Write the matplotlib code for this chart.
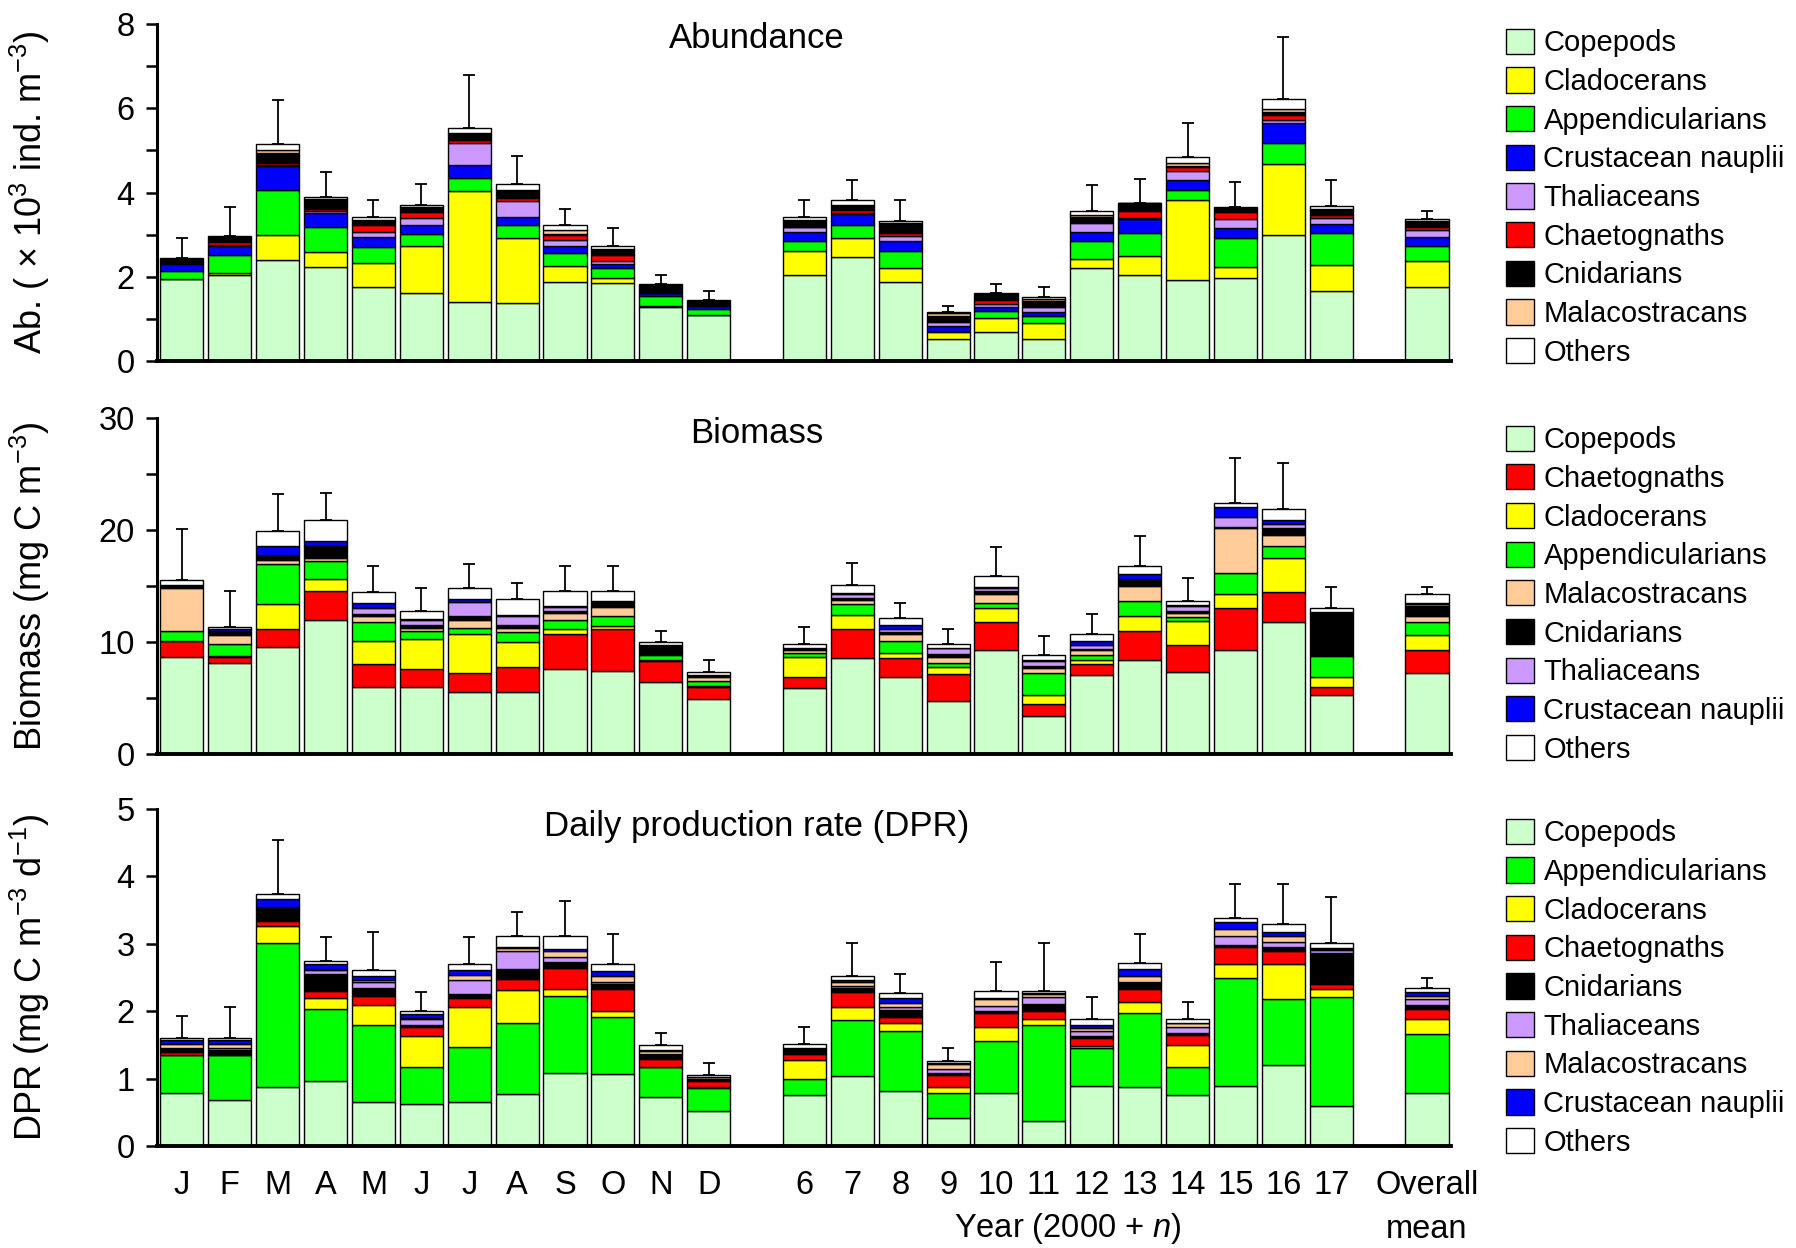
import matplotlib
matplotlib.use("Agg")
import matplotlib.pyplot as plt
import numpy as np
from matplotlib.patches import Patch
from matplotlib.ticker import MultipleLocator

plt.rcParams["font.family"] = ["Liberation Sans", "DejaVu Sans"]
plt.rcParams["mathtext.fontset"] = "custom"
plt.rcParams["mathtext.rm"] = "Liberation Sans"
plt.rcParams["mathtext.it"] = "Liberation Sans:italic"

MONTH_LABELS = ["J", "F", "M", "A", "M", "J", "J", "A", "S", "O", "N", "D"]
YEAR_LABELS = ["6", "7", "8", "9", "10", "11", "12", "13", "14", "15", "16", "17"]
MEAN_LABEL = "Overall\nmean"

COLORS = {
    "Copepods": "#ccffcc",
    "Cladocerans": "#ffff00",
    "Appendicularians": "#00ff00",
    "Crustacean nauplii": "#0000ff",
    "Thaliaceans": "#cc99ff",
    "Chaetognaths": "#ff0000",
    "Cnidarians": "#000000",
    "Malacostracans": "#ffcc99",
    "Others": "#ffffff",
}

# values: 12 months (J..D), 12 years (2006..2017), overall mean
# --- abundance (x10^3 ind. m-3)
AB_COP = [1.94, 2.05, 2.40, 2.24, 1.75, 1.62, 1.41, 1.37, 1.87, 1.85, 1.29, 1.09,
          2.04, 2.48, 1.87, 0.53, 0.70, 0.53, 2.20, 2.04, 1.92, 1.96, 3.00, 1.67, 1.75]
AB_CLAD = [0.00, 0.04, 0.58, 0.34, 0.57, 1.12, 2.62, 1.54, 0.39, 0.11, 0.01, 0.01,
           0.58, 0.43, 0.33, 0.16, 0.33, 0.37, 0.22, 0.46, 1.91, 0.28, 1.67, 0.62, 0.62]
AB_APP = [0.20, 0.43, 1.08, 0.61, 0.38, 0.28, 0.32, 0.32, 0.30, 0.26, 0.24, 0.14,
          0.24, 0.32, 0.40, 0.03, 0.16, 0.17, 0.42, 0.53, 0.24, 0.67, 0.51, 0.74, 0.37]
AB_NAUP = [0.16, 0.22, 0.58, 0.33, 0.25, 0.22, 0.31, 0.18, 0.18, 0.08, 0.07, 0.07,
           0.21, 0.25, 0.26, 0.10, 0.10, 0.10, 0.23, 0.34, 0.22, 0.25, 0.47, 0.22, 0.21]
AB_THAL = [0.02, 0.02, 0.02, 0.03, 0.12, 0.15, 0.52, 0.40, 0.14, 0.07, 0.00, 0.01,
           0.10, 0.03, 0.10, 0.10, 0.06, 0.12, 0.20, 0.02, 0.23, 0.21, 0.08, 0.15, 0.15]
AB_CHAET = [0.02, 0.06, 0.04, 0.07, 0.17, 0.14, 0.06, 0.06, 0.10, 0.14, 0.02, 0.01,
            0.02, 0.08, 0.07, 0.02, 0.10, 0.02, 0.02, 0.17, 0.08, 0.16, 0.12, 0.06, 0.09]
AB_CNID = [0.08, 0.12, 0.24, 0.20, 0.09, 0.10, 0.16, 0.16, 0.04, 0.12, 0.16, 0.09,
           0.13, 0.10, 0.22, 0.13, 0.14, 0.12, 0.12, 0.18, 0.04, 0.10, 0.05, 0.13, 0.12]
AB_MAL = [0.00, 0.00, 0.06, 0.02, 0.02, 0.02, 0.02, 0.02, 0.09, 0.02, 0.01, 0.00,
          0.02, 0.02, 0.02, 0.06, 0.01, 0.05, 0.06, 0.00, 0.06, 0.01, 0.07, 0.02, 0.02]
AB_OTH = [0.02, 0.02, 0.14, 0.06, 0.06, 0.06, 0.11, 0.14, 0.12, 0.08, 0.03, 0.02,
          0.07, 0.12, 0.05, 0.03, 0.02, 0.03, 0.10, 0.01, 0.14, 0.01, 0.24, 0.08, 0.05]
AB_ERR = [0.47, 0.69, 1.05, 0.58, 0.42, 0.50, 1.25, 0.68, 0.38, 0.43, 0.22, 0.23,
          0.42, 0.46, 0.51, 0.14, 0.22, 0.25, 0.60, 0.58, 0.81, 0.60, 1.49, 0.60, 0.19]

# --- biomass (mg C m-3)
BM_COP = [8.64, 8.17, 9.59, 11.94, 6.03, 6.03, 5.58, 5.58, 7.60, 7.42, 6.47, 4.93,
          5.88, 8.55, 6.92, 4.78, 9.30, 3.36, 7.07, 8.40, 7.30, 9.30, 11.82, 5.23, 7.28]
BM_CHAET = [1.46, 0.53, 1.55, 2.61, 2.02, 1.57, 1.70, 2.17, 3.09, 3.72, 1.88, 1.10,
            1.04, 2.59, 1.63, 2.35, 2.52, 1.09, 0.95, 2.62, 2.44, 3.70, 2.61, 0.80, 2.02]
BM_CLAD = [0.00, 0.05, 2.22, 1.07, 2.05, 2.65, 3.41, 2.29, 0.45, 0.32, 0.05, 0.05,
           1.72, 1.27, 0.45, 0.62, 1.18, 0.84, 0.38, 1.31, 2.17, 1.26, 3.12, 0.89, 1.33]
BM_APP = [0.89, 1.10, 3.57, 1.61, 1.72, 0.74, 0.60, 0.83, 0.83, 0.87, 0.40, 0.40,
          0.36, 0.95, 1.10, 0.42, 0.50, 1.93, 0.45, 1.33, 0.36, 1.87, 1.04, 1.87, 1.13]
BM_MAL = [3.86, 0.80, 0.44, 0.29, 0.51, 0.30, 0.70, 0.42, 0.59, 0.83, 0.10, 0.36,
          0.25, 0.39, 0.59, 0.53, 0.76, 0.44, 0.45, 1.37, 0.35, 4.07, 1.01, 0.02, 0.57]
BM_CNID = [0.24, 0.25, 0.39, 1.04, 0.15, 0.20, 0.30, 0.20, 0.20, 0.44, 0.80, 0.18,
           0.15, 0.20, 0.25, 0.20, 0.30, 0.20, 0.10, 0.56, 0.15, 0.05, 0.54, 3.84, 0.90]
BM_THAL = [0.00, 0.05, 0.05, 0.05, 0.59, 0.50, 1.25, 0.80, 0.34, 0.05, 0.02, 0.03,
           0.05, 0.34, 0.20, 0.54, 0.25, 0.46, 0.33, 0.05, 0.45, 0.89, 0.38, 0.02, 0.20]
BM_NAUP = [0.02, 0.20, 0.74, 0.40, 0.38, 0.05, 0.30, 0.10, 0.10, 0.05, 0.05, 0.03,
           0.02, 0.10, 0.38, 0.05, 0.10, 0.10, 0.35, 0.45, 0.05, 0.89, 0.36, 0.01, 0.05]
BM_OTH = [0.44, 0.20, 1.40, 1.86, 0.98, 0.75, 0.95, 1.45, 1.35, 0.85, 0.20, 0.22,
          0.35, 0.70, 0.60, 0.35, 0.98, 0.40, 0.62, 0.74, 0.42, 0.40, 1.04, 0.35, 0.82]
BM_ERR = [4.55, 3.23, 3.25, 2.43, 2.35, 2.00, 2.17, 1.40, 2.23, 2.23, 1.03, 1.10,
          1.48, 2.01, 1.38, 1.33, 2.61, 1.75, 1.77, 2.62, 2.05, 3.97, 4.08, 1.91, 0.64]

# --- daily production rate (mg C m-3 d-1)
DPR_COP = [0.78, 0.68, 0.87, 0.97, 0.66, 0.63, 0.66, 0.77, 1.09, 1.07, 0.73, 0.52,
           0.76, 1.04, 0.81, 0.42, 0.78, 0.37, 0.89, 0.87, 0.76, 0.89, 1.20, 0.60, 0.78]
DPR_APP = [0.57, 0.67, 2.14, 1.06, 1.14, 0.55, 0.81, 1.05, 1.14, 0.85, 0.44, 0.34,
           0.23, 0.83, 0.90, 0.36, 0.78, 1.43, 0.56, 1.10, 0.41, 1.60, 0.98, 1.61, 0.88]
DPR_CLAD = [0.00, 0.00, 0.26, 0.17, 0.29, 0.45, 0.60, 0.49, 0.10, 0.08, 0.01, 0.01,
            0.28, 0.20, 0.11, 0.09, 0.20, 0.09, 0.04, 0.16, 0.33, 0.21, 0.52, 0.12, 0.23]
DPR_CHAET = [0.05, 0.02, 0.07, 0.10, 0.13, 0.14, 0.12, 0.17, 0.31, 0.33, 0.11, 0.09,
             0.10, 0.22, 0.09, 0.18, 0.21, 0.12, 0.11, 0.20, 0.15, 0.26, 0.20, 0.08, 0.15]
DPR_CNID = [0.04, 0.06, 0.17, 0.26, 0.12, 0.03, 0.07, 0.15, 0.09, 0.07, 0.06, 0.02,
            0.05, 0.06, 0.11, 0.04, 0.04, 0.10, 0.04, 0.09, 0.03, 0.03, 0.06, 0.45, 0.06]
DPR_THAL = [0.02, 0.02, 0.02, 0.05, 0.10, 0.08, 0.21, 0.26, 0.07, 0.03, 0.01, 0.01,
            0.01, 0.02, 0.04, 0.06, 0.07, 0.10, 0.07, 0.02, 0.09, 0.12, 0.07, 0.05, 0.08]
DPR_MAL = [0.06, 0.06, 0.02, 0.02, 0.02, 0.02, 0.07, 0.05, 0.10, 0.09, 0.05, 0.03,
           0.01, 0.07, 0.06, 0.07, 0.10, 0.04, 0.04, 0.09, 0.05, 0.11, 0.08, 0.02, 0.05]
DPR_NAUP = [0.06, 0.07, 0.12, 0.07, 0.07, 0.06, 0.07, 0.02, 0.02, 0.07, 0.02, 0.01,
            0.01, 0.02, 0.08, 0.01, 0.01, 0.02, 0.05, 0.10, 0.01, 0.10, 0.06, 0.01, 0.06]
DPR_OTH = [0.02, 0.02, 0.07, 0.05, 0.08, 0.04, 0.09, 0.15, 0.19, 0.11, 0.07, 0.02,
           0.07, 0.07, 0.07, 0.03, 0.11, 0.03, 0.09, 0.09, 0.05, 0.06, 0.13, 0.07, 0.05]
DPR_ERR = [0.33, 0.46, 0.80, 0.35, 0.56, 0.29, 0.40, 0.37, 0.53, 0.44, 0.17, 0.18,
           0.25, 0.48, 0.28, 0.20, 0.43, 0.71, 0.32, 0.42, 0.25, 0.51, 0.59, 0.68, 0.15]

PANELS = [
    {
        "title": "Abundance",
        "ylabel": "Ab. ( × 10$^{3}$ ind. m$^{-3}$)",
        "ylim": 8, "major": 2, "minor": 1,
        "series": [("Copepods", AB_COP), ("Cladocerans", AB_CLAD), ("Appendicularians", AB_APP),
                   ("Crustacean nauplii", AB_NAUP), ("Thaliaceans", AB_THAL), ("Chaetognaths", AB_CHAET),
                   ("Cnidarians", AB_CNID), ("Malacostracans", AB_MAL), ("Others", AB_OTH)],
        "err": AB_ERR,
        "rect": [0.0874, 0.7107, 0.7205, 0.2701],
        "legend_top": 0.977,
        "title_y": 0.958,
    },
    {
        "title": "Biomass",
        "ylabel": "Biomass (mg C m$^{-3}$)",
        "ylim": 30, "major": 10, "minor": 5,
        "series": [("Copepods", BM_COP), ("Chaetognaths", BM_CHAET), ("Cladocerans", BM_CLAD),
                   ("Appendicularians", BM_APP), ("Malacostracans", BM_MAL), ("Cnidarians", BM_CNID),
                   ("Thaliaceans", BM_THAL), ("Crustacean nauplii", BM_NAUP), ("Others", BM_OTH)],
        "err": BM_ERR,
        "rect": [0.0874, 0.3958, 0.7205, 0.2692],
        "legend_top": 0.659,
        "title_y": 0.955,
    },
    {
        "title": "Daily production rate (DPR)",
        "ylabel": "DPR (mg C m$^{-3}$ d$^{-1}$)",
        "ylim": 5, "major": 1, "minor": None,
        "series": [("Copepods", DPR_COP), ("Appendicularians", DPR_APP), ("Cladocerans", DPR_CLAD),
                   ("Chaetognaths", DPR_CHAET), ("Cnidarians", DPR_CNID), ("Thaliaceans", DPR_THAL),
                   ("Malacostracans", DPR_MAL), ("Crustacean nauplii", DPR_NAUP), ("Others", DPR_OTH)],
        "err": DPR_ERR,
        "rect": [0.0874, 0.0817, 0.7205, 0.2700],
        "legend_top": 0.344,
        "title_y": 0.948,
    },
]

X = np.r_[0:12, 13:25, 26]
WIDTH = 0.9
TICK_FS = 23.5
TITLE_FS = 25
YLABEL_FS = 26
LEGEND_FS = 21


def draw_panel(fig, panel, show_xlabels):
    ax = fig.add_axes(panel["rect"])
    bottom = np.zeros(len(X))
    for name, values in panel["series"]:
        values = np.asarray(values)
        ax.bar(X, values, WIDTH, bottom=bottom, color=COLORS[name],
               edgecolor="black", linewidth=1.0, zorder=2)
        bottom += values
    err = np.asarray(panel["err"])
    ax.errorbar(X, bottom, yerr=[np.zeros_like(err), err], fmt="none",
                ecolor="black", elinewidth=1.3, capsize=4.5, capthick=1.3, zorder=1)

    ax.set_xlim(-0.52, 26.5)
    ax.set_ylim(0, panel["ylim"])
    ax.yaxis.set_major_locator(MultipleLocator(panel["major"]))
    if panel["minor"]:
        ax.yaxis.set_minor_locator(MultipleLocator(panel["minor"]))
    ax.tick_params(axis="y", which="major", direction="out", length=8, width=1.8,
                   labelsize=TICK_FS, pad=8)
    ax.tick_params(axis="y", which="minor", direction="out", length=8, width=1.8)
    for side in ["top", "right"]:
        ax.spines[side].set_visible(False)
    ax.spines["left"].set_linewidth(2.2)
    ax.spines["bottom"].set_linewidth(2.8)

    if show_xlabels:
        ax.set_xticks(X)
        ax.set_xticklabels(MONTH_LABELS + YEAR_LABELS + [MEAN_LABEL], fontsize=TICK_FS)
        ax.tick_params(axis="x", length=0, pad=17)
        ax.get_xticklabels()[-1].set_linespacing(1.55)
        ax.text(18.5, -0.246, "Year (2000 + $n$)", transform=ax.get_xaxis_transform(),
                ha="center", va="center", fontsize=TICK_FS)
    else:
        ax.set_xticks([])

    ax.text(12, panel["title_y"], panel["title"], transform=ax.get_xaxis_transform(),
            ha="center", va="center", fontsize=TITLE_FS)

    left, bot, w, h = panel["rect"]
    fig.text(0.0165, bot + h / 2, panel["ylabel"], rotation=90, ha="center", va="center",
             fontsize=YLABEL_FS)

    handles = [Patch(facecolor=COLORS[name], edgecolor="black", linewidth=1.0, label=name)
               for name, _ in panel["series"]]
    fig.legend(handles=handles, loc="upper left", bbox_to_anchor=(0.8386, panel["legend_top"]),
               frameon=False, fontsize=LEGEND_FS, handlelength=0.95, handleheight=0.95,
               handletextpad=0.33, labelspacing=0.345, borderpad=0, borderaxespad=0)
    return ax


fig = plt.figure(figsize=(17.96, 12.48), dpi=100)
for i, panel in enumerate(PANELS):
    draw_panel(fig, panel, show_xlabels=(i == len(PANELS) - 1))

fig.savefig("out.png", dpi=100)
